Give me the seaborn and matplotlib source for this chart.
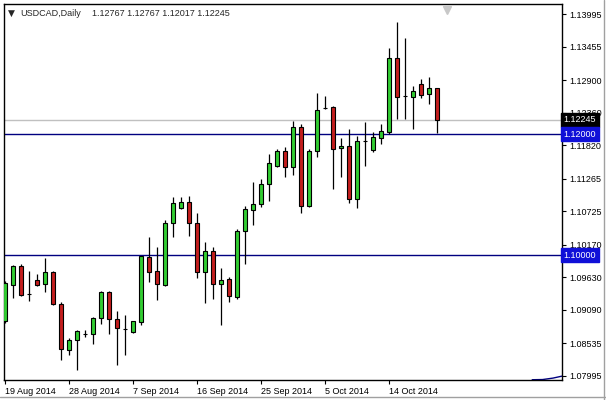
import matplotlib
matplotlib.use("Agg")
import matplotlib.pyplot as plt
import seaborn as sns
import pandas as pd
from matplotlib.lines import Line2D

sns.set_style("white")
plt.rcParams["font.family"] = ["Liberation Sans", "DejaVu Sans"]

# ---- data (USDCAD daily) ----
dates = ["19 Aug 2014", "20 Aug 2014", "21 Aug 2014", "22 Aug 2014", "24 Aug 2014",
         "25 Aug 2014", "26 Aug 2014", "27 Aug 2014", "28 Aug 2014", "29 Aug 2014",
         "31 Aug 2014", "1 Sep 2014", "2 Sep 2014", "3 Sep 2014", "4 Sep 2014",
         "5 Sep 2014", "7 Sep 2014", "8 Sep 2014", "9 Sep 2014", "10 Sep 2014",
         "11 Sep 2014", "12 Sep 2014", "14 Sep 2014", "15 Sep 2014", "16 Sep 2014",
         "17 Sep 2014", "18 Sep 2014", "19 Sep 2014", "21 Sep 2014", "22 Sep 2014",
         "23 Sep 2014", "24 Sep 2014", "25 Sep 2014", "26 Sep 2014", "28 Sep 2014",
         "29 Sep 2014", "30 Sep 2014", "1 Oct 2014", "2 Oct 2014", "3 Oct 2014",
         "5 Oct 2014", "6 Oct 2014", "7 Oct 2014", "8 Oct 2014", "9 Oct 2014",
         "10 Oct 2014", "12 Oct 2014", "13 Oct 2014", "14 Oct 2014", "15 Oct 2014",
         "16 Oct 2014", "17 Oct 2014", "19 Oct 2014", "20 Oct 2014", "21 Oct 2014"]

opens = [1.08906, 1.09503, 1.09818, 1.09354, 1.09586, 1.09520, 1.09719, 1.09188, 1.08426, 1.08592,
         1.08691, 1.08691, 1.08956, 1.09387, 1.08940, 1.08774, 1.08724, 1.08890, 1.09967, 1.09735,
         1.09503, 1.10531, 1.10779, 1.10879, 1.10531, 1.09719, 1.10067, 1.09520, 1.09603, 1.09304,
         1.10398, 1.10746, 1.10846, 1.11177, 1.11476, 1.11724, 1.11459, 1.12122, 1.10813, 1.11724,
         1.12437, 1.12454, 1.11774, 1.11807, 1.10929, 1.11890, 1.11741, 1.11940, 1.12039, 1.13266,
         1.12636, 1.12619, 1.12835, 1.12669, 1.12767]
highs = [1.09570, 1.09835, 1.09851, 1.09735, 1.09686, 1.09951, 1.09735, 1.09221, 1.08625, 1.08757,
         1.08757, 1.08973, 1.09404, 1.09404, 1.09072, 1.09006, 1.08906, 1.09984, 1.10299, 1.10133,
         1.10581, 1.10962, 1.10962, 1.10978, 1.10697, 1.10216, 1.10133, 1.09785, 1.09636, 1.10431,
         1.10813, 1.11210, 1.11260, 1.11675, 1.11757, 1.11791, 1.12221, 1.12172, 1.11757, 1.12686,
         1.12636, 1.12470, 1.11940, 1.12089, 1.11973, 1.12205, 1.12039, 1.12172, 1.13431, 1.13862,
         1.13597, 1.12802, 1.12918, 1.12951, 1.12767]
lows = [1.08873, 1.09288, 1.09321, 1.09238, 1.09487, 1.09387, 1.09172, 1.08260, 1.08343, 1.08094,
        1.08641, 1.08525, 1.08857, 1.08691, 1.08177, 1.08343, 1.08708, 1.08840, 1.09553, 1.09255,
        1.09487, 1.10299, 1.10763, 1.10315, 1.09619, 1.09205, 1.09271, 1.08840, 1.09221, 1.09271,
        1.09851, 1.10498, 1.10796, 1.10895, 1.11459, 1.11293, 1.11326, 1.10697, 1.10796, 1.11625,
        1.12420, 1.11094, 1.11293, 1.10862, 1.10779, 1.11476, 1.11708, 1.11840, 1.12006, 1.12255,
        1.12255, 1.12089, 1.12603, 1.12503, 1.12017]
closes = [1.09536, 1.09818, 1.09337, 1.09354, 1.09503, 1.09719, 1.09188, 1.08442, 1.08592, 1.08741,
          1.08691, 1.08956, 1.09387, 1.08940, 1.08790, 1.08774, 1.08906, 1.09984, 1.09719, 1.09520,
          1.10531, 1.10862, 1.10879, 1.10531, 1.09719, 1.10067, 1.09520, 1.09586, 1.09321, 1.10398,
          1.10763, 1.10846, 1.11177, 1.11525, 1.11724, 1.11459, 1.12122, 1.10813, 1.11724, 1.12404,
          1.12437, 1.11757, 1.11807, 1.10929, 1.11890, 1.11890, 1.11956, 1.12056, 1.13266, 1.12619,
          1.12636, 1.12719, 1.12652, 1.12768, 1.12245]

ytick_values = [1.13995, 1.13455, 1.12900, 1.12360, 1.11820, 1.11265, 1.10725,
                1.10170, 1.09630, 1.09090, 1.08535, 1.07995]
level_lines = [1.12000, 1.10000]
bid_price = 1.12245
header_name = "USDCAD,Daily"
header_values = "1.12767 1.12767 1.12017 1.12245"
indicator_x = [65.9, 67.2, 68.5, 69.6]
indicator_y = [1.07933, 1.07936, 1.07960, 1.07992]

df = pd.DataFrame({"date": dates, "open": opens, "high": highs, "low": lows, "close": closes})
df["idx"] = range(len(df))
df["bull"] = df["close"] >= df["open"]

GREEN = "#32CD32"
RED = "#C41E1E"
NAVY = "#000080"

fig = plt.figure(figsize=(6.06, 4.0), dpi=100)
fig.patch.set_facecolor("white")
ax = fig.add_axes([4 / 606, 20 / 400, 558 / 606, 376 / 400])
ax.set_facecolor("white")

# wicks
ax.vlines(df["idx"], df["low"], df["high"], color="black", lw=0.9, zorder=2)
# bodies
bottoms = df[["open", "close"]].min(axis=1)
heights = (df["close"] - df["open"]).abs()
colors = [GREEN if b else RED for b in df["bull"]]
ax.bar(df["idx"], heights, bottom=bottoms, width=0.55, color=colors,
       edgecolor="black", linewidth=0.8, zorder=3)

# horizontal lines
ax.axhline(bid_price, color="#C0C0C0", lw=1.0, zorder=1)
for lv in level_lines:
    ax.axhline(lv, color=NAVY, lw=1.0, zorder=1.5)

# small indicator line at bottom right
sns.lineplot(x=indicator_x, y=indicator_y, ax=ax, color=NAVY, lw=1.0)

ax.set_xlim(-0.125, 69.625)
ax.set_ylim(1.079285, 1.141608)

# y axis on right
ax.yaxis.tick_right()
ax.set_yticks(ytick_values)
ax.set_yticklabels([f"{v:.5f}" for v in ytick_values])
ax.tick_params(axis="y", direction="out", length=3, width=0.8, pad=2,
               labelsize=6.5, colors="black", right=True, left=False)

# x axis
xt = list(range(0, len(dates), 8))
ax.set_xticks(xt)
ax.set_xticklabels([dates[i] for i in xt])
ax.tick_params(axis="x", direction="out", length=3, width=0.8, pad=2,
               labelsize=6.5, colors="black", bottom=True)
for lab in ax.get_xticklabels():
    lab.set_horizontalalignment("left")

for s in ax.spines.values():
    s.set_color("black")
    s.set_linewidth(1.0)
ax.set_xlabel("")
ax.set_ylabel("")

# price boxes on right axis
def price_box(val, face):
    ax.text(1.003, val, f"{val:.5f}", transform=ax.get_yaxis_transform(),
            ha="left", va="center", fontsize=6.5, color="white", zorder=20,
            clip_on=False,
            bbox=dict(boxstyle="square,pad=0.28", facecolor=face, edgecolor=face))

price_box(bid_price, "black")
for lv in level_lines:
    price_box(lv, "#1010D8")

# header
fig.text(8 / 606, 1 - 13 / 400, "\u25BC", fontsize=6.5, ha="left", va="center",
         family=["DejaVu Sans"])
fig.text(20 / 606, 1 - 13 / 400, header_name, fontsize=6.5, ha="left", va="center")
fig.text(92.5 / 606, 1 - 13 / 400, header_values, fontsize=6.5, ha="left", va="center")

# shift marker triangle at top
ax.plot([55.3], [0.985], marker="v", markersize=6, color="#C8C8C8",
        transform=ax.get_xaxis_transform(), clip_on=False, zorder=5)

# outer frame of the window
fig.add_artist(Line2D([604 / 606, 604 / 606], [0, 1], color="#A0A0A0", lw=1.0))
fig.add_artist(Line2D([0, 1], [3 / 400, 3 / 400], color="#A0A0A0", lw=1.0))

fig.savefig("out.png", dpi=100, facecolor="white")
